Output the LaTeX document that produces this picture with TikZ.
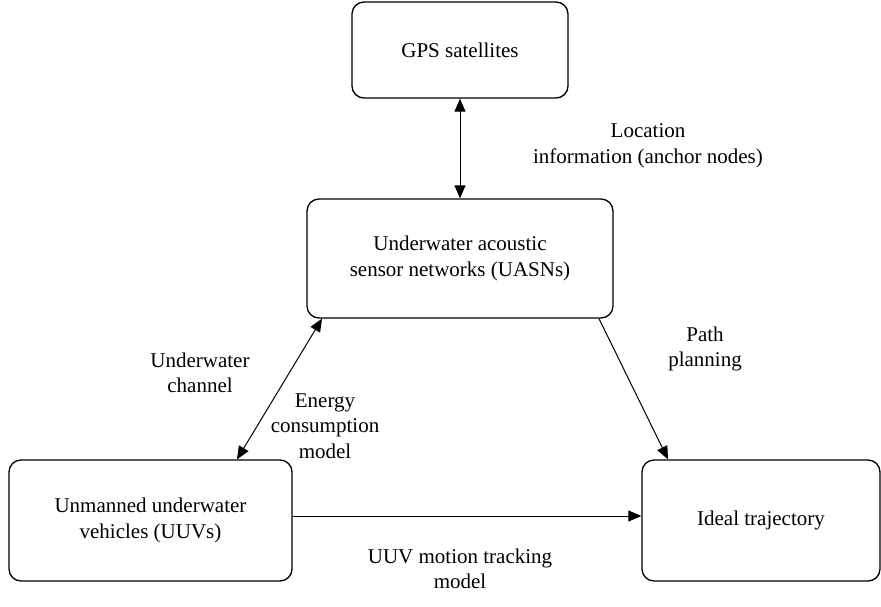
\documentclass[tikz,border=0pt]{standalone}
\usepackage{fontspec}
\setmainfont{Liberation Serif}
\usetikzlibrary{arrows.meta}
\begin{document}
\begin{tikzpicture}[x=1pt,y=-1pt,
  box/.style={draw, line width=1.3pt, rounded corners=12pt, align=center, inner sep=0pt},
  lbl/.style={align=center, inner sep=0pt},
  conn/.style={line width=1pt, -{Triangle[length=13pt,width=11pt]}},
  biconn/.style={line width=1pt, {Triangle[length=13pt,width=11pt]}-{Triangle[length=13pt,width=11pt]}},
  every node/.style={font=\fontsize{21}{25.5}\selectfont}]
\useasboundingbox (0,0) rectangle (881,606);
\node[box, minimum width=216pt, minimum height=96pt] (gps) at (460,50) {GPS satellites};
\node[box, minimum width=306pt, minimum height=119pt] (uasn) at (460,258.5) {Underwater acoustic\\sensor networks (UASNs)};
\node[box, minimum width=283pt, minimum height=121pt] (uuv) at (150.5,520.5) {Unmanned underwater\\vehicles (UUVs)};
\node[box, minimum width=238pt, minimum height=121pt] (ideal) at (761,520.5) {Ideal trajectory};

\draw[biconn] (gps.south) -- (uasn.north);
\draw[biconn] ([xshift=86.5pt]uuv.north) -- ([xshift=-138pt]uasn.south);
\draw[conn] ([xshift=139pt]uasn.south) -- ([xshift=-93pt]ideal.north);
\draw[conn] ([yshift=4.5pt]uuv.east) -- ([yshift=4.5pt]ideal.west);

\node[lbl] (loc) at (648,146) {Location\\information (anchor nodes)};
\node[lbl] (path) at (705,349) {Path\\planning};
\node[lbl] (chan) at (200,373) {Underwater\\channel};
\node[lbl] (energy) at (325,426) {Energy\\consumption\\model};
\node[lbl] (motion) at (460,569) {UUV motion tracking\\model};
\end{tikzpicture}
\end{document}
